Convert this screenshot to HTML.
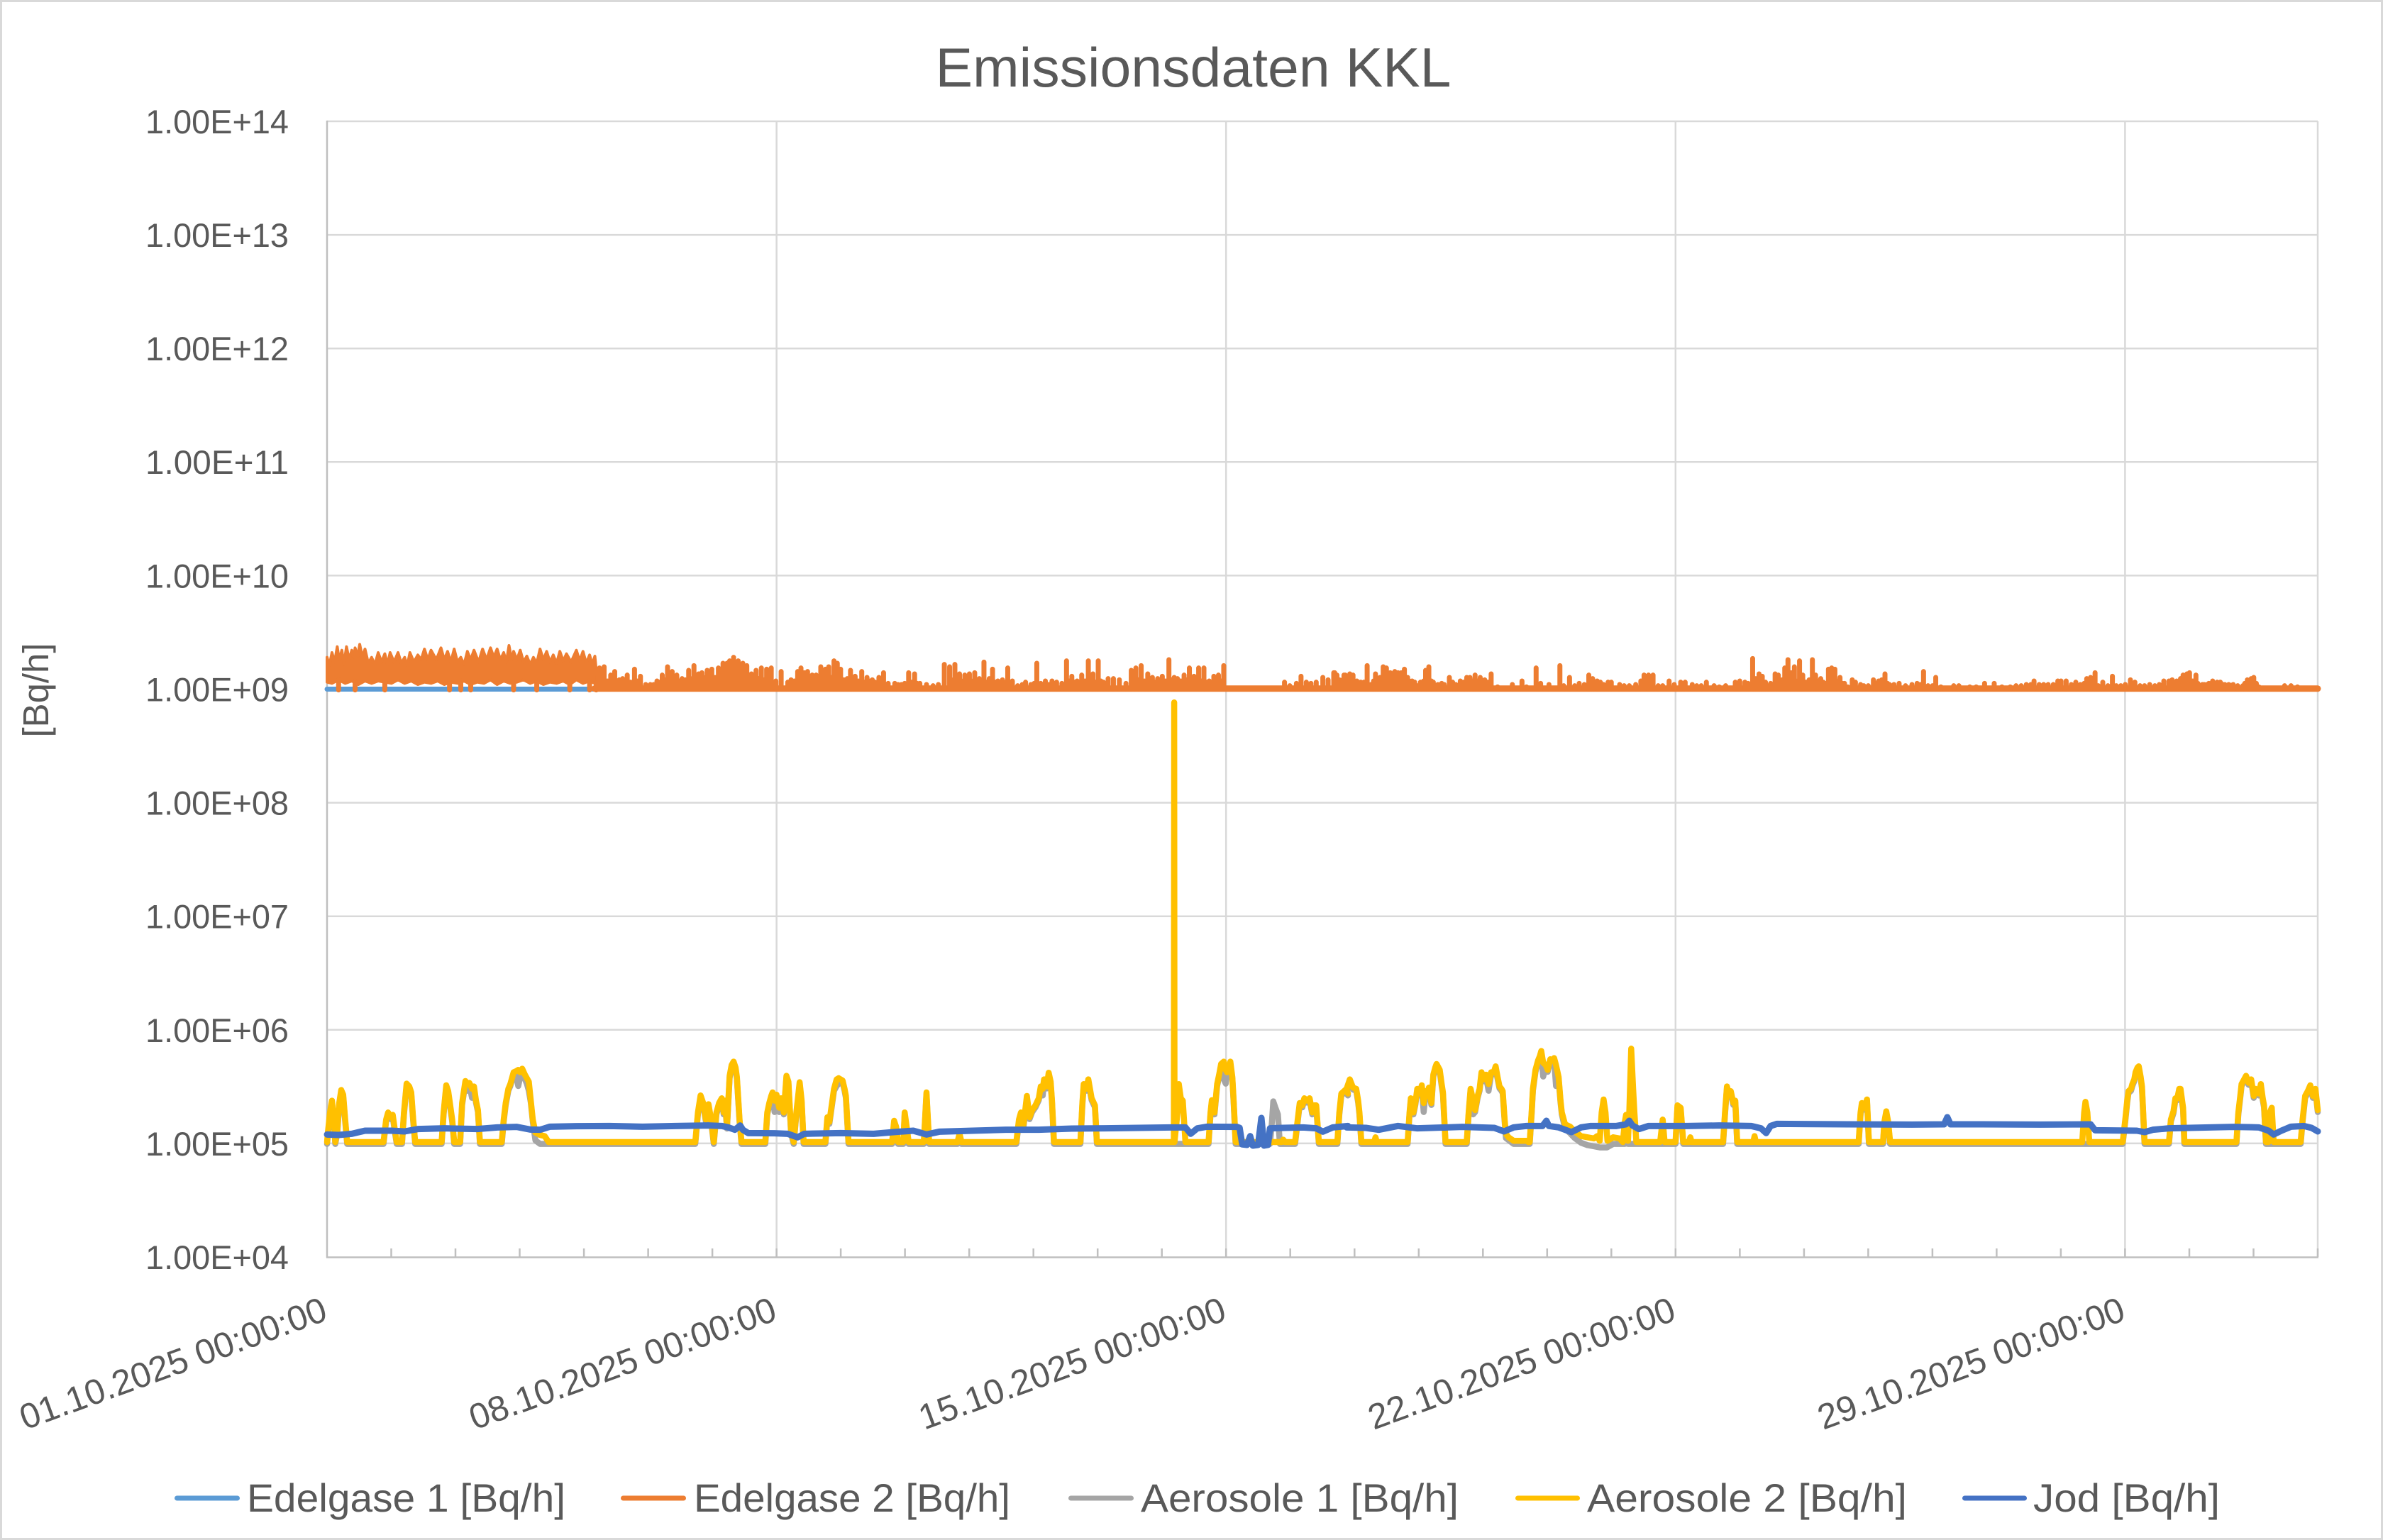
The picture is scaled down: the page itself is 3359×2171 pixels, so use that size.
<!DOCTYPE html>
<html><head><meta charset="utf-8"><style>html,body{margin:0;padding:0;background:#fff}svg{display:block}</style></head>
<body>
<svg xmlns="http://www.w3.org/2000/svg" width="3359" height="2171" viewBox="0 0 3359 2171" font-family="'Liberation Sans', sans-serif">
<rect x="0" y="0" width="3359" height="2171" fill="#fff"/>
<rect x="1.5" y="1.5" width="3356" height="2168" fill="none" stroke="#d9d9d9" stroke-width="3"/>

<!-- gridlines -->
<g stroke="#d9d9d9" stroke-width="2.5" fill="none">
<path d="M461 171H3267M461 331.1H3267M461 491.2H3267M461 651.3H3267M461 811.4H3267M461 971.5H3267M461 1131.6H3267M461 1291.7H3267M461 1451.8H3267M461 1611.9H3267"/>
<path d="M1094.6 171V1772M1728.2 171V1772M2361.8 171V1772M2995.4 171V1772M3267 171V1772"/>
</g>
<!-- axes -->
<g stroke="#bfbfbf" stroke-width="2.5" fill="none">
<path d="M461 170V1773M460 1772.5H3268"/>
<path d="M551.5 1760V1772M642 1760V1772M732.5 1760V1772M823.1 1760V1772M913.6 1760V1772M1004.1 1760V1772M1094.6 1760V1772M1185.1 1760V1772M1275.6 1760V1772M1366.2 1760V1772M1456.7 1760V1772M1547.2 1760V1772M1637.7 1760V1772M1728.2 1760V1772M1818.7 1760V1772M1909.3 1760V1772M1999.8 1760V1772M2090.3 1760V1772M2180.8 1760V1772M2271.3 1760V1772M2361.8 1760V1772M2452.4 1760V1772M2542.9 1760V1772M2633.4 1760V1772M2723.9 1760V1772M2814.4 1760V1772M2904.9 1760V1772M2995.4 1760V1772M3086 1760V1772M3176.5 1760V1772M3267 1760V1772"/>
</g>

<!-- Edelgase 1 -->
<path d="M461 971.5H3267" stroke="#5b9bd5" stroke-width="7" stroke-linecap="round" fill="none"/>

<!-- Edelgase 2 -->
<path d="M838 970.8H3267" stroke="#ed7d31" stroke-width="9" stroke-linecap="round" fill="none"/>
<g transform="translate(440,880) scale(0.93112,0.33333)" stroke="#ed7d31" stroke-linecap="round" stroke-linejoin="round">
<path vector-effect="non-scaling-stroke" stroke-width="4" fill="#ed7d31" d="M22.6 140 L26 175 30 120 34 160 38 95 41 150 45 110 48 170 52 95 56 150 60 110 63 140 65 100 69 135 72 85 76 140 80 105 85 165 90 140 95 170 100 120 105 160 110 125 114 170 118 120 124 160 130 120 135 165 140 140 144 175 148 120 154 160 160 130 165 150 170 105 175 150 180 110 188 150 195 100 200 150 205 115 210 160 215 105 220 160 225 140 230 170 235 115 240 150 245 110 252 160 258 105 264 150 270 100 275 140 280 105 285 150 290 120 294 160 298 90 302 150 305 115 310 150 315 110 320 160 325 135 330 170 335 140 340 165 345 105 350 150 355 115 360 160 365 130 370 165 375 115 380 155 385 125 392 160 400 110 405 155 410 115 415 165 420 130 424 170 428 135 432 250 432 255 420 240 410 250 400 235 390 255 380 240 370 250 360 245 350 255 340 240 330 250 320 235 310 245 300 250 290 240 280 255 270 235 260 250 250 245 240 255 230 240 220 250 210 245 200 255 190 240 180 250 170 245 160 255 150 240 140 250 130 235 120 250 110 245 100 240 90 250 80 240 70 255 60 240 50 250 40 235 30 250 22.6 245 Z"/>
<path vector-effect="non-scaling-stroke" stroke-width="7" fill="none" d="M40 278V235M65 278V240M110 278V245M208 278V245M225 278V240M240 278V255M305 278V250M340 278V240M390 278V255M420 278V240M430 278V250
M435 274V185M442 274V180M452 274V215M458 274V200M465 274V235M470 274V230M477 274V215M488 274V190M497 274V220M505 274V255M512 274V255M522 274V240M530 274V215M538 274V180M545 274V200M552 274V215M560 274V230M570 274V195M578 274V175M585 274V210M590 274V205M598 274V195M605 274V190M615 274V185M622 274V165M628 274V165M632 274V155M638 274V140M645 274V155M652 274V165M658 274V175M665 274V210M672 274V195M680 274V185M688 274V190M695 274V185M702 274V240M710 274V200M720 274V245M725 274V235M735 274V200M740 274V185M745 274V205M750 274V200M757 274V215M763 274V215M770 274V180M777 274V190M782 274V180M790 274V155M795 274V165M800 274V190M810 274V230M815 274V195M822 274V220M832 274V200M840 274V225M848 274V235M858 274V225M865 274V205M872 274V250M882 274V250M892 274V255M903 274V205M912 274V210M920 274V250M930 274V255M940 274V260M948 274V255M957 274V170M965 274V180M973 274V170M980 274V210M988 274V215M995 274V210M1003 274V205M1010 274V230M1017 274V160M1025 274V230M1030 274V190M1038 274V240M1045 274V235M1053 274V185M1060 274V240M1068 274V260M1080 274V245M1088 274V255M1097 274V165M1110 274V240M1120 274V240M1127 274V245M1135 274V250M1142 274V155M1150 274V220M1158 274V240M1165 274V215M1175 274V155M1182 274V210M1190 274V155M1198 274V245M1205 274V230M1213 274V230M1222 274V235M1232 274V250M1240 274V195M1247 274V185M1255 274V175M1265 274V210M1272 274V225M1280 274V230M1287 274V220M1297 274V150M1305 274V225M1310 274V230M1320 274V215M1328 274V185M1335 274V220M1342 274V185M1350 274V185M1358 274V240M1365 274V220M1372 274V215M1380 274V175M1472 274V245M1480 274V260M1490 274V250M1497 274V220M1505 274V245M1512 274V250M1520 274V245M1530 274V225M1538 274V235M1548 274V205M1555 274V235M1562 274V215
M548 274V235M556 274V240M565 274V235M575 274V230M582 274V235M595 274V225M602 274V230M610 274V225M618 274V220M625 274V215M635 274V210M642 274V215M648 274V220M655 274V225M662 274V230M668 274V235M676 274V230M684 274V235M692 274V240M730 274V240M755 274V235M767 274V230M786 274V225M805 274V235M827 274V240M836 274V245M845 274V240M852 274V245M862 274V245M970 274V235M977 274V240M985 274V240M1000 274V240M1006 274V245M1014 274V245M1034 274V245M1041 274V250M1050 274V245
M447 274V240M462 274V245M482 274V245M492 274V240M517 274V255M526 274V245M534 274V235M887 274V255M897 274V250M908 274V245M916 274V250M1021 274V245M1057 274V250M1075 274V255M1093 274V250M1103 274V250M1115 274V255M1146 274V240M1154 274V245M1170 274V240M1186 274V245M1194 274V240M1244 274V240M1251 274V235M1260 274V240M1268 274V245M1276 274V245M1292 274V240M1301 274V235M1315 274V240M1324 274V235M1331 274V240M1338 274V235M1346 274V240M1354 274V245M1368 274V245M1376 274V240"/>
</g>
<g transform="translate(1880,880) scale(0.90561,0.33333)" stroke="#ed7d31" stroke-linecap="round" fill="none">
<path vector-effect="non-scaling-stroke" stroke-width="7" d="M0 274V205M5 274V215M10 274V260M18 274V215M25 274V210M30 274V215M42 274V245M52 274V175M58 274V255M65 274V210M72 274V225M77 274V180M82 274V185M88 274V205M95 274V200M100 274V205M105 274V205M110 274V190M115 274V225M122 274V240M130 274V260M140 274V240M143 274V195M148 274V180M155 274V245M162 274V255M172 274V255M180 274V225M190 274V255M197 274V240M207 274V225M212 274V225M220 274V215M228 274V225M235 274V235M245 274V210M255 274V265M278 274V255M293 274V240M300 274V265M315 274V185M322 274V250M335 274V255M352 274V175M358 274V260M367 274V225M375 274V260M382 274V250M390 274V255M397 274V215M403 274V230M410 274V240M415 274V245M420 274V255M427 274V245M432 274V245M445 274V255M452 274V260M460 274V260M470 274V255M478 274V240M483 274V215M490 274V215M497 274V215M505 274V260M512 274V260M522 274V240M530 274V255M540 274V245M547 274V245M558 274V255M565 274V260M572 274V260M580 274V245M592 274V260M600 274V265M610 274V260M625 274V245M632 274V240M640 274V245M652 274V145M657 274V230M662 274V210M667 274V220M675 274V260M682 274V255M687 274V210M692 274V215M698 274V235M702 274V185M707 274V150M712 274V205M717 274V180M725 274V155M730 274V215M735 274V245M745 274V150M750 274V215M758 274V230M765 274V250M770 274V190M775 274V185M780 274V190M788 274V225M795 274V250M800 274V265M807 274V235M812 274V245M820 274V255M825 274V260M832 274V260M840 274V235M848 274V240M853 274V235M858 274V210M865 274V255M872 274V255M880 274V250M890 274V260M900 274V255M908 274V250M913 274V255M918 274V200M925 274V260M932 274V260M937 274V225M945 274V265M965 274V260M973 274V260M990 274V265M1000 274V265M1013 274V250M1028 274V250M1040 274V265M1053 274V265M1062 274V260M1070 274V260M1078 274V255M1085 274V255M1090 274V240M1098 274V255M1105 274V255M1112 274V255M1120 274V255M1127 274V240M1132 274V240M1140 274V240M1148 274V255M1155 274V245M1162 274V255M1168 274V250M1172 274V230M1178 274V225M1185 274V205M1190 274V260M1197 274V245M1205 274V260M1212 274V220M1218 274V260M1225 274V260M1232 274V255M1240 274V235M1247 274V245M1255 274V260M1262 274V260M1270 274V255M1278 274V260M1285 274V255M1292 274V240M1300 274V240M1305 274V235M1312 274V240M1318 274V230M1322 274V215M1328 274V210M1332 274V205M1337 274V240M1342 274V215M1348 274V260M1355 274V255M1362 274V250M1368 274V240M1375 274V245M1380 274V245M1387 274V255M1393 274V255M1400 274V255M1407 274V260M1415 274V260M1422 274V235M1428 274V230M1432 274V225M1440 274V265M1480 274V260M1490 274V260M1500 274V265
M14 274V235M22 274V240M36 274V240M47 274V245M62 274V240M68 274V235M85 274V230M92 274V225M98 274V230M108 274V235M118 274V240M126 274V245M135 274V245M152 274V240M168 274V250M185 274V245M202 274V245M216 274V240M224 274V240M232 274V245M240 274V245M645 274V250M660 274V240M672 274V245M680 274V250M695 274V240M705 274V235M715 274V235M722 274V240M740 274V235M755 274V240M762 274V245M772 274V240M785 274V240M792 274V250M845 274V250M862 274V250
M1302 274V250M1309 274V245M1315 274V245M1325 274V240M1335 274V245M1345 274V250M1352 274V255M1359 274V255M1365 274V250M1372 274V250M1384 274V255M1397 274V258M1418 274V250M1425 274V245M1436 274V250"/>
</g>

<!-- Aerosole 1 (gray) -->
<g transform="translate(440,1471) scale(0.93112,0.33333)" stroke="#a5a5a5" stroke-linecap="round" stroke-linejoin="round" fill="none">
<path vector-effect="non-scaling-stroke" stroke-width="8.5" d="M22.6 425 L24 380 27 300 30 250 33 330 35 425 38 380 41 260 44 205 47 225 50 330 53 425 L108 425 112 330 115 300 119 320 122 310 125 370 128 425 L136 425 139 300 143 178 147 190 150 215 153 330 156 425 L196 425 199 300 203 185 206 210 208 250 212 330 215 425 L224 425 227 260 232 167 235 200 238 175 242 230 245 190 248 250 251 290 254 425 L287 425 290 330 293 260 297 200 300 180 303 150 305 130 309 140 312 180 315 140 318 130 322 150 325 170 328 200 331 250 334 330 338 410 345 425 L580 425 584 300 588 228 592 260 596 330 600 265 604 330 608 425 612 300 616 260 620 240 623 300 625 250 628 360 632 145 635 100 638 85 641 110 643 150 647 330 650 425 L686 425 689 300 692 260 695 230 697 215 700 290 703 225 707 290 710 240 714 300 718 145 721 170 725 380 729 425 733 300 738 172 741 250 744 425 L777 425 780 320 783 340 786 280 790 200 794 180 797 170 800 160 803 165 806 200 808 230 812 425 L878 425 881 335 884 360 887 425 L895 425 897 300 900 360 903 425 L926 425 930 215 934 425 L977 425 980 390 983 425 L1066 425 1070 330 1073 300 1077 350 1082 230 1086 320 1090 290 1095 270 1100 240 1103 190 1106 220 1108 160 1112 190 1115 132 1118 170 1120 250 1123 425 L1163 425 1166 260 1168 180 1172 200 1175 160 1180 240 1185 270 1188 425 L1357 425 1360 300 1362 248 1366 300 1370 180 1373 140 1376 95 1380 150 1383 170 1385 130 1388 110 1390 85 1393 150 1395 250 1398 425 L1450 425 1453 330 1455 245 1458 270 1462 300 1465 425 L1488 425 1492 330 1495 260 1499 270 1502 240 1506 250 1510 240 1514 300 1517 270 1520 270 1524 425 L1552 425 1555 300 1558 220 1562 210 1566 200 1568 220"/>
</g>
<g transform="translate(1880,1471) scale(0.90561,0.33333)" stroke="#a5a5a5" stroke-linecap="round" stroke-linejoin="round" fill="none">
<path vector-effect="non-scaling-stroke" stroke-width="8.5" d="M20 200 L25 160 30 195 35 200 38 250 40 300 43 425 L115 425 118 300 120 240 124 300 127 260 130 200 134 220 137 185 140 290 143 210 146 230 148 195 152 260 155 140 158 110 160 95 163 110 165 120 168 180 170 215 174 425 L207 425 210 300 213 200 217 300 220 290 224 230 227 200 230 130 234 160 237 140 241 200 245 130 249 130 252 105 255 150 258 190 261 200 263 210 266 330 268 400 280 425 L305 425 308 300 310 200 314 120 318 80 321 60 323 40 326 140 330 100 333 120 337 75 340 80 343 70 346 180 350 150 353 250 355 300 360 360 368 380 375 400 385 420 395 430 405 435 415 440 425 440 435 425 L453 425 455 330 458 425 L532 425 535 270 540 280 544 425 L606 425 609 300 612 190 615 220 618 210 622 260 625 250 628 425 L817 425 820 300 822 260 826 280 830 245 833 425 L855 425 857 340 860 295 863 340 866 425 L1228 425 1232 330 1235 250 1237 210 1241 200 1243 180 1246 160 1248 130 1251 110 1253 105 1256 150 1258 190 1262 425 L1300 425 1303 330 1307 295 1310 240 1313 240 1316 200 1318 200 1322 280 1324 425 L1405 425 1408 300 1411 230 1413 180 1417 160 1420 145 1424 175 1428 160 1432 230 1435 200 1440 220 1443 180 1446 240 1448 270 1451 425 L1505 425 1508 330 1512 230 1516 210 1520 185 1524 230 1528 200 1531.6 290"/>
</g>

<!-- Aerosole 2 (yellow) -->
<g transform="translate(440,1468.3) scale(0.93112,0.33333)" stroke="#ffc000" stroke-linecap="round" stroke-linejoin="round" fill="none">
<path vector-effect="non-scaling-stroke" stroke-width="8.5" d="M22.6 425 L24 380 27 300 30 250 33 330 35 425 38 380 41 260 44 205 47 225 50 330 53 425 L108 425 112 330 115 300 119 320 122 310 125 370 128 425 L136 425 139 300 143 178 147 190 150 215 153 330 156 425 L196 425 199 300 203 185 206 210 208 250 212 330 215 425 L224 425 227 260 232 167 235 180 238 175 242 200 245 190 248 250 251 290 254 425 L287 425 290 330 293 260 297 200 300 180 303 150 305 130 309 125 312 120 315 130 318 115 322 140 325 155 328 170 331 250 334 330 338 385 345 395 352 400 358 425 L580 425 584 300 588 228 592 260 596 330 600 265 604 330 608 425 612 300 616 260 620 240 623 300 625 250 628 360 632 145 635 100 638 85 641 110 643 150 647 330 650 425 L686 425 689 300 692 260 695 230 697 215 700 250 703 225 707 280 710 240 714 300 718 145 721 170 725 380 729 425 733 300 738 172 741 250 744 425 L777 425 780 320 783 340 786 280 790 200 794 160 797 155 800 160 803 165 806 200 808 230 812 425 L878 425 881 335 884 360 887 425 L895 425 897 300 900 360 903 425 L926 425 930 215 934 425 L977 425 980 390 983 425 L1066 425 1070 330 1073 300 1077 350 1082 230 1086 320 1090 290 1095 270 1100 240 1103 190 1106 200 1108 160 1112 190 1115 132 1118 170 1120 250 1123 425 L1163 425 1166 260 1168 180 1172 200 1175 160 1180 240 1185 270 1188 425 L1304.5 425 1305 -1434 1305.5 425 L1310 300 1312 180 1315 240 1318 250 1322 425 L1357 425 1360 300 1362 248 1366 300 1370 180 1373 140 1376 95 1380 85 1383 120 1385 130 1388 110 1390 85 1393 150 1395 250 1398 425 L1468 425 1470 415 1473 425 L1488 425 1492 330 1495 260 1499 270 1502 240 1506 250 1510 240 1514 300 1517 270 1520 270 1524 425 L1552 425 1555 300 1558 220 1562 210 1566 200 1568 220"/>
</g>
<g transform="translate(1880,1468.3) scale(0.90561,0.33333)" stroke="#ffc000" stroke-linecap="round" stroke-linejoin="round" fill="none">
<path vector-effect="non-scaling-stroke" stroke-width="8.5" d="M20 200 L25 160 30 195 35 200 38 250 40 300 43 425 L63 425 65 405 67 425 L115 425 118 300 120 240 124 300 127 260 130 200 134 220 137 185 140 260 143 210 146 230 148 195 152 260 155 140 158 110 160 95 163 110 165 120 168 180 170 215 174 425 L207 425 210 300 213 200 217 250 220 290 224 230 227 200 230 130 234 160 237 140 241 180 245 130 249 130 252 105 255 150 258 190 261 200 263 210 266 330 268 390 272 405 280 420 300 420 303 425 L305 425 308 300 310 200 314 120 318 80 321 60 323 40 326 90 330 100 333 120 337 75 340 80 343 70 346 100 350 150 353 250 355 300 360 350 368 360 375 380 385 400 395 405 405 410 410 400 414 420 417 300 420 245 423 300 426 420 435 405 445 410 450 425 453 340 455 310 458 420 460 300 463 30 466 200 468 300 471 425 L508 425 512 330 515 425 L532 425 535 270 540 280 544 425 L553 425 555 405 557 425 L606 425 609 300 612 190 615 220 618 210 622 260 625 250 628 425 L653 425 655 400 657 425 L817 425 820 300 822 260 826 280 830 245 833 425 L855 425 857 340 860 295 863 340 866 425 L1165 425 1168 300 1170 255 1173 300 1176 425 L1228 425 1232 330 1235 250 1237 210 1241 200 1243 180 1246 160 1248 130 1251 110 1253 105 1256 150 1258 190 1262 425 L1300 425 1303 330 1307 295 1310 240 1313 240 1316 200 1318 200 1322 280 1324 425 L1405 425 1408 300 1411 230 1413 180 1417 160 1420 145 1424 175 1428 160 1432 230 1435 200 1440 220 1443 180 1446 240 1448 270 1451 425 L1455 425 1457 300 1460 280 1463 425 L1505 425 1508 330 1512 230 1516 210 1520 185 1524 230 1528 200 1531.6 290"/>
</g>

<!-- Jod -->
<g transform="translate(440,1470) scale(0.93112,0.33333)" stroke="#4472c4" stroke-linecap="round" stroke-linejoin="round" fill="none">
<path vector-effect="non-scaling-stroke" stroke-width="9" d="M22.6 388 L40 390 60 385 80 372 120 372 140 375 160 365 200 362 250 365 280 358 310 356 330 367 345 368 360 355 400 353 450 352 500 355 550 352 600 350 620 352 630 358 640 368 648 350 652 368 660 382 700 383 720 385 735 400 745 385 800 382 850 385 880 378 910 372 930 388 950 376 1000 372 1050 368 1100 368 1150 363 1200 362 1250 360 1300 358 1322 358 1330 385 1340 362 1355 355 1400 356 1404 360 1408 430 1415 432 1420 395 1424 435 1432 432 1437 318 1441 435 1447 432 1450 362 1470 360 1500 358 1520 362 1530 376 1545 358 1568 352"/>
</g>
<g transform="translate(1880,1470) scale(0.90561,0.33333)" stroke="#4472c4" stroke-linecap="round" stroke-linejoin="round" fill="none">
<path vector-effect="non-scaling-stroke" stroke-width="9" d="M20 358 L50 360 70 368 100 352 130 362 200 356 250 360 265 375 280 358 300 352 325 352 331 330 335 352 350 358 370 378 385 358 400 352 440 352 455 345 460 330 465 350 475 365 490 352 550 352 600 350 650 352 665 362 673 382 680 352 690 343 800 345 900 346 950 345 955 315 960 345 1000 345 1100 346 1178 345 1185 370 1250 372 1262 378 1275 368 1300 362 1400 356 1440 358 1455 372 1463 388 1475 372 1490 355 1510 352 1522 360 1531.6 375"/>
</g>

<!-- Title -->
<text x="1682" y="122" text-anchor="middle" font-size="78" fill="#595959" textLength="727" lengthAdjust="spacingAndGlyphs">Emissionsdaten KKL</text>

<!-- Y axis title -->
<text transform="translate(68,973) rotate(-90)" text-anchor="middle" font-size="51" fill="#595959" textLength="133" lengthAdjust="spacingAndGlyphs">[Bq/h]</text>

<!-- Y tick labels -->
<g font-size="47" fill="#595959" text-anchor="end">
<text x="407" y="188" textLength="202" lengthAdjust="spacingAndGlyphs">1.00E+14</text>
<text x="407" y="348" textLength="202" lengthAdjust="spacingAndGlyphs">1.00E+13</text>
<text x="407" y="508" textLength="202" lengthAdjust="spacingAndGlyphs">1.00E+12</text>
<text x="407" y="668" textLength="202" lengthAdjust="spacingAndGlyphs">1.00E+11</text>
<text x="407" y="828.5" textLength="202" lengthAdjust="spacingAndGlyphs">1.00E+10</text>
<text x="407" y="988.5" textLength="202" lengthAdjust="spacingAndGlyphs">1.00E+09</text>
<text x="407" y="1148.5" textLength="202" lengthAdjust="spacingAndGlyphs">1.00E+08</text>
<text x="407" y="1308.5" textLength="202" lengthAdjust="spacingAndGlyphs">1.00E+07</text>
<text x="407" y="1469" textLength="202" lengthAdjust="spacingAndGlyphs">1.00E+06</text>
<text x="407" y="1629" textLength="202" lengthAdjust="spacingAndGlyphs">1.00E+05</text>
<text x="407" y="1789" textLength="202" lengthAdjust="spacingAndGlyphs">1.00E+04</text>
</g>

<!-- X tick labels -->
<g font-size="50" fill="#595959" text-anchor="end">
<text transform="translate(464,1860) rotate(-20)" textLength="456" lengthAdjust="spacingAndGlyphs">01.10.2025 00:00:00</text>
<text transform="translate(1097.6,1860) rotate(-20)" textLength="456" lengthAdjust="spacingAndGlyphs">08.10.2025 00:00:00</text>
<text transform="translate(1731.2,1860) rotate(-20)" textLength="456" lengthAdjust="spacingAndGlyphs">15.10.2025 00:00:00</text>
<text transform="translate(2364.8,1860) rotate(-20)" textLength="456" lengthAdjust="spacingAndGlyphs">22.10.2025 00:00:00</text>
<text transform="translate(2998.4,1860) rotate(-20)" textLength="456" lengthAdjust="spacingAndGlyphs">29.10.2025 00:00:00</text>
</g>

<!-- Legend -->
<g stroke-width="7" stroke-linecap="round" fill="none">
<path d="M249.5 2112H334.5" stroke="#5b9bd5"/>
<path d="M878.5 2112H963.5" stroke="#ed7d31"/>
<path d="M1509.5 2112H1594.5" stroke="#a5a5a5"/>
<path d="M2139.5 2112H2223.5" stroke="#ffc000"/>
<path d="M2769.5 2112H2853.5" stroke="#4472c4"/>
</g>
<g font-size="56" fill="#595959">
<text x="348" y="2131" textLength="449" lengthAdjust="spacingAndGlyphs">Edelgase 1 [Bq/h]</text>
<text x="978" y="2131" textLength="446" lengthAdjust="spacingAndGlyphs">Edelgase 2 [Bq/h]</text>
<text x="1608" y="2131" textLength="448" lengthAdjust="spacingAndGlyphs">Aerosole 1 [Bq/h]</text>
<text x="2237" y="2131" textLength="451" lengthAdjust="spacingAndGlyphs">Aerosole 2 [Bq/h]</text>
<text x="2866" y="2131" textLength="263" lengthAdjust="spacingAndGlyphs">Jod [Bq/h]</text>
</g>
</svg>
</body></html>
